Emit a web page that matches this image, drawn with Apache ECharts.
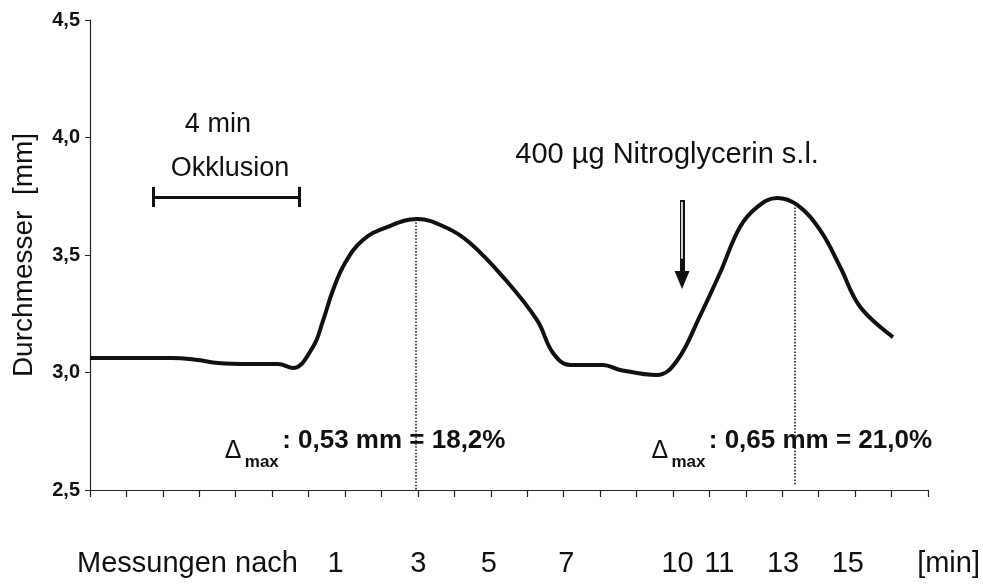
<!DOCTYPE html>
<html><head><meta charset="utf-8">
<script src="https://cdn.jsdelivr.net/npm/echarts@6/dist/echarts.min.js"></script>
<style>html,body{margin:0;padding:0;background:#fff}#c{width:983px;height:584px}</style>
</head><body><div id="c"></div>
<script>
// time axis in tick units (one tick per unit, 23 ticks)
const timeUnits = [0, 2.25, 2.96, 3.51, 4.39, 5.16, 5.57, 6.12, 6.40, 6.67, 7.0, 7.49, 8.15, 8.98, 9.80, 10.43, 11.34, 12.27, 12.71, 13.18, 14.08, 14.55, 15.56, 16.11, 16.74, 17.29, 17.84, 18.31, 18.86, 19.41, 20.04, 20.59, 21.14, 22.04];
const diameter  = [3.062, 3.062, 3.053, 3.040, 3.036, 3.036, 3.019, 3.109, 3.223, 3.351, 3.466, 3.564, 3.619, 3.653, 3.615, 3.551, 3.406, 3.223, 3.083, 3.032, 3.032, 3.011, 2.989, 3.050, 3.240, 3.423, 3.619, 3.704, 3.743, 3.713, 3.606, 3.449, 3.279, 3.151];
// bottom labels and where they sit on the tick-unit scale
const labelText = ['Messungen nach', '1', '3', '5', '7', '10', '11', '13', '15', '[min]'];
const labelPos  = [2.69, 6.78, 9.06, 11.01, 13.15, 16.22, 17.37, 19.13, 20.92, 23.7];
// maxima markers
const peakX   = [8.95, 19.35];
const peakY   = [3.653, 3.716];
const deltaText = [': 0,53 mm = 18,2%', ': 0,65 mm = 21,0%'];
// occlusion bar and nitro arrow
const occlusion = [1.73, 5.74, 3.747];
const arrow = [16.25, 3.734, 3.394];

const FF = "'Liberation Sans', Arial, sans-serif";
const chart = echarts.init(document.getElementById('c'));

function deltaLabel(i, u) {
  return {
    coord: [u, 2.7085], symbol: 'circle', symbolSize: 1, itemStyle: {color: 'rgba(0,0,0,0)'},
    label: {
      show: true, position: 'inside', color: '#111', fontSize: 12, fontFamily: FF,
      formatter: '{d|Δ} {s|max} {b|' + deltaText[i] + '}',
      rich: {
        d: {fontSize: 25, fontFamily: FF, color: '#111', padding: [20, 0, 0, 0]},
        s: {fontSize: 17, fontWeight: 'bold', fontFamily: FF, color: '#111', padding: [42, 0, 0, 0]},
        b: {fontSize: 26, fontWeight: 'bold', fontFamily: FF, color: '#111'}
      }
    }
  };
}
function textLabel(txt, u, v, size) {
  return {
    coord: [u, v], symbol: 'circle', symbolSize: 1, itemStyle: {color: 'rgba(0,0,0,0)'},
    label: {show: true, position: 'inside', formatter: txt, fontSize: size, fontFamily: FF, color: '#111'}
  };
}

const capH = 0.043;
const option = {
  backgroundColor: '#fff',
  animation: false,
  grid: [
    {left: 90, right: 55, top: 20, bottom: 94},
    {left: 90, width: 36.435 * 24.5, top: 20, bottom: 94}
  ],
  xAxis: [
    {type: 'value', gridIndex: 0, min: 0, max: 23, interval: 1,
     axisLine: {show: true, onZero: false, lineStyle: {color: '#222', width: 1.2}},
     axisTick: {show: true, length: 7, lineStyle: {color: '#222', width: 1.2}},
     axisLabel: {show: false}, splitLine: {show: false}},
    {type: 'value', gridIndex: 1, min: 0, max: 24.5, position: 'bottom',
     axisLine: {show: false}, axisTick: {show: false}, splitLine: {show: false},
     axisLabel: {show: true, margin: 59, customValues: labelPos, fontSize: 29, fontFamily: FF, color: '#111',
       formatter: function (v) {
         let best = -1, bd = 1e9;
         labelPos.forEach(function (p, i) { const d = Math.abs(p - v); if (d < bd) { bd = d; best = i; } });
         return bd < 0.01 ? labelText[best] : '';
       }}}
  ],
  yAxis: [
    {type: 'value', gridIndex: 0, min: 2.5, max: 4.5, interval: 0.5,
     name: 'Durchmesser  [mm]', nameLocation: 'middle', nameRotate: 90, nameGap: 52,
     nameTextStyle: {fontSize: 28, fontFamily: FF, color: '#111'},
     axisLine: {show: true, lineStyle: {color: '#222', width: 1.2}},
     axisTick: {show: true, length: 5, lineStyle: {color: '#222'}},
     axisLabel: {margin: 10, fontSize: 20, fontWeight: 'bold', fontFamily: FF, color: '#111',
       formatter: function (v) { return v.toFixed(1).replace('.', ','); }},
     splitLine: {show: false}},
    {type: 'value', gridIndex: 1, min: 0, max: 1, show: false}
  ],
  series: [{
    type: 'line', xAxisIndex: 0, yAxisIndex: 0,
    data: timeUnits.map(function (t, i) { return [t, diameter[i]]; }),
    smooth: 0.4, showSymbol: false, symbol: 'none',
    lineStyle: {color: '#111', width: 4},
    markLine: {
      silent: true, symbol: 'none', animation: false,
      label: {show: false},
      data: [
        [{coord: [peakX[0], peakY[0]], lineStyle: {type: 'dotted', width: 1.6, color: '#222'}}, {coord: [peakX[0], 2.5]}],
        [{coord: [peakX[1], peakY[1]], lineStyle: {type: 'dotted', width: 1.6, color: '#222'}}, {coord: [peakX[1], 2.52]}],
        [{coord: [occlusion[0], occlusion[2]], lineStyle: {type: 'solid', width: 3, color: '#111'}}, {coord: [occlusion[1], occlusion[2]]}],
        [{coord: [occlusion[0], occlusion[2] + capH], lineStyle: {type: 'solid', width: 3, color: '#111'}}, {coord: [occlusion[0], occlusion[2] - capH]}],
        [{coord: [occlusion[1], occlusion[2] + capH], lineStyle: {type: 'solid', width: 3, color: '#111'}}, {coord: [occlusion[1], occlusion[2] - capH]}],
        [{coord: [arrow[0], arrow[1]], symbol: 'none', lineStyle: {type: 'solid', width: 5, color: '#111'}}, {coord: [arrow[0], arrow[2]], symbol: 'triangle', symbolSize: [15, 18], symbolRotate: 180}],
        [{coord: [arrow[0], arrow[1] - 0.008], symbol: 'none', lineStyle: {type: 'solid', width: 1.6, color: '#fff'}}, {coord: [arrow[0], arrow[2] + 0.09], symbol: 'none'}]
      ]
    },
    markPoint: {
      silent: true, animation: false,
      data: [
        textLabel('4 min', 3.51, 4.053, 27),
        textLabel('Okklusion', 3.84, 3.870, 27),
        textLabel('400 µg Nitroglycerin s.l.', 15.84, 3.926, 29),
        deltaLabel(0, 7.55),
        deltaLabel(1, 19.26)
      ]
    }
  }]
};
chart.setOption(option);
</script></body></html>
